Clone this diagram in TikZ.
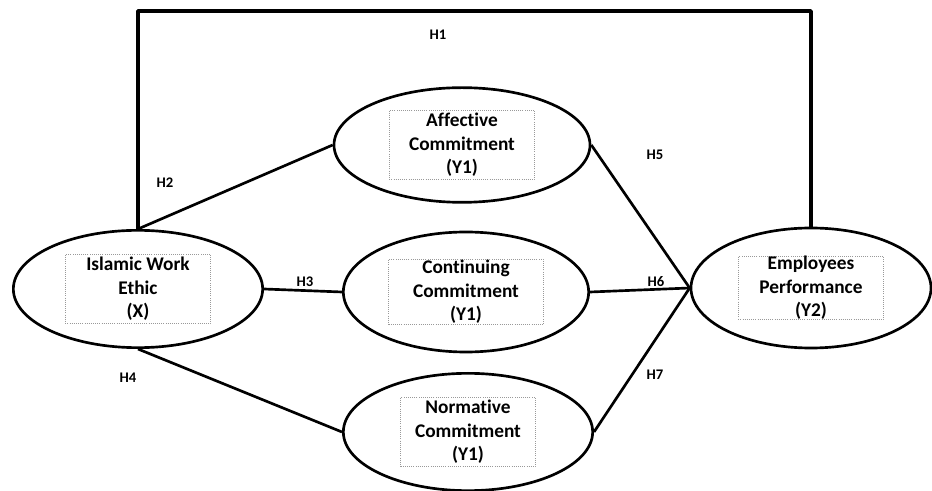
\documentclass[tikz,border=0pt]{standalone}
\usepackage{fontspec}
\setmainfont{Carlito}[Ligatures=NoCommon]
\usetikzlibrary{shapes.geometric}

\tikzset{
  latent/.style={ellipse, draw, line width=2pt, fill=white},
  itembox/.style={draw=gray!80, densely dotted, line width=0.6pt, align=center,
    font=\bfseries\fontsize{14.5}{17.5}\selectfont, inner sep=0pt},
  hyp/.style={font=\bfseries\fontsize{11}{12}\selectfont},
  path/.style={line width=2pt}
}

\begin{document}
\begin{tikzpicture}[x=0.75pt, y=-0.75pt, line join=round]
    \useasboundingbox (0,0) rectangle (932,491);
    \coordinate (top) at (0,11);
    % latent variables
    \node[latent, minimum width=187pt, minimum height=88pt] (X) at (138,289) {};
    \node[latent, minimum width=192pt, minimum height=86pt] (A) at (462,145) {};
    \node[latent, minimum width=184pt, minimum height=90pt] (C) at (466,292) {};
    \node[latent, minimum width=187pt, minimum height=88pt] (N) at (468,432) {};
    \node[latent, minimum width=180pt, minimum height=90pt] (Y) at (811,288) {};
    % inner boxes
    \node[itembox, minimum width=109pt, minimum height=52pt] (Xt) at (X) {Islamic Work\\Ethic\\(X)};
    \node[itembox, minimum width=109pt, minimum height=52pt] (At) at (A) {Affective\\Commitment\\(Y1)};
    \node[itembox, minimum width=116pt, minimum height=49pt] (Ct) at (C) {Continuing\\Commitment\\(Y1)};
    \node[itembox, minimum width=101pt, minimum height=52pt] (Nt) at (N) {Normative\\Commitment\\(Y1)};
    \node[itembox, minimum width=109pt, minimum height=44pt] (Yt) at (Y) {Employees\\Performance\\(Y2)};
    % paths
    \draw[path, line width=2.6pt] (X.north) -- (X.north |- top) -- (Y.north |- top) -- (Y.north);
    \draw[path] (X.north) -- (A.west);
    \draw[path] (X.east) -- (C.west);
    \draw[path] (X.south) -- (N.west);
    \draw[path] (A.east) -- (Y.west);
    \draw[path] (C.east) -- (Y.west);
    \draw[path] (N.east) -- (Y.west);
    % hypotheses
    \node[hyp] (h1) at (438,35) {H1};
    \node[hyp] (h2) at (165,183) {H2};
    \node[hyp] (h3) at (305,282) {H3};
    \node[hyp] (h4) at (128,378) {H4};
    \node[hyp] (h5) at (655,155) {H5};
    \node[hyp] (h6) at (656,282) {H6};
    \node[hyp] (h7) at (655,375) {H7};
\end{tikzpicture}
\end{document}
